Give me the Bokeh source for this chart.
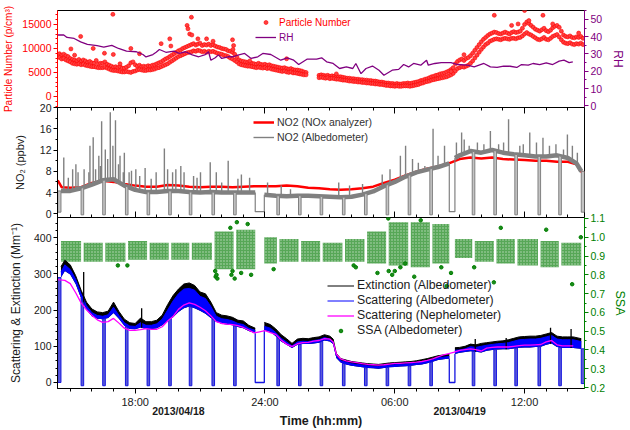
import numpy as np
from bokeh.plotting import figure
from bokeh.layouts import column
from bokeh.models import (Range1d, LinearAxis, FixedTicker, Legend, LegendItem,
                          PrintfTickFormatter, BasicTickFormatter)
from bokeh.embed import file_html
from bokeh.resources import INLINE

nan = float("nan")

# ---------------- time axis (hours since 2013/04/18 00:00) ----------------
T_START, T_END = 14.41, 38.77
MAJOR_HOURS = [18, 24, 30, 36]
HOUR_LABELS = {18: "18:00", 24: "24:00", 30: "06:00", 36: "12:00"}
MINOR_HOURS = list(range(15, 39))
DATES = ["2013/04/18", "2013/04/19"]
DATE_POS = [20, 33]

# albedometer zeroing cycles (start / end, hours)
dip_t0 = [14.42, 15.50, 16.50, 17.55, 18.55, 19.55, 20.50, 21.55, 22.55, 23.55, 24.55, 25.55, 26.55,
          27.58, 28.60, 29.60, 30.62, 31.62, 32.52, 33.58, 34.58, 35.55, 36.62, 37.58, 38.62]
dip_t1 = [14.57, 15.62, 16.62, 17.67, 18.67, 19.67, 20.62, 21.67, 22.67, 23.97, 24.67, 25.67, 26.67,
          27.70, 28.72, 29.72, 30.74, 31.74, 32.78, 33.70, 34.70, 35.67, 36.74, 37.70, 38.77]
dip_floor_sca = [0, -9, -9, -9, -9, -9, -9, -9, -9, 0, -9, -9, -9,
                 -9, -9, -9, -9, -9, 0, -9, -9, -9, -9, -9, -3]
dip_floor_no2 = [0.3, -0.2, -0.2, -0.2, -0.2, -0.2, -0.2, -0.2, -0.2, 0.4, -0.2, -0.2, -0.2,
                 -0.2, -0.2, -0.2, -0.2, -0.2, 0.4, -0.2, -0.2, -0.2, -0.2, -0.2, 0.3]

# ---------------- panel 1: particle number and RH ----------------
PN_T0, PN_DT = 14.5, 0.1
pn_hi = [8900, 8600, 8800, 8500, 8300, 7900, 7700, 7600, 7400, 7700,
         7300, 7600, 7400, 7100, 7300, 7000, 6900, 7500, 6800, 6900,
         6900, 7200, 6700, 6500, 6300, 6100, 6200, 6000, 6200, 5900,
         5900, 6100, 6400, 7000, 7200, 6600, 6300, 6500, 6200, 6300,
         6200, 6400, 6300, 6500, 6600, 6800, 7000, 7200, 7500, 7800,
         8000, 8300, 8600, 8900, 9200, 9500, 9700, 10000, 10200, 10400,
         10600, 10800, 11000, 10700, 10900, 11100, 10600, 10800, 10700, 10900,
         10600, 10800, 10500, 10300, 10200, 10000, 9900, 9800, 9500, 9400,
         9200, 8800, 8200, 7600, 7400, 7300, 7200, 7100, 7000, 6900,
         6800, 6700, 6900, 6700, 6600, 6700, 6500, 6600, 6400, 6300,
         6200, 6100, 6000, 5900, 6000, 5800, 5700, 5800, 5600, 5500,
         5500, 5400, 5300, 5100, 5000, nan, nan, nan, nan, nan,
         4400, 4500, 4400, 4300, 4400, 4200, 4300, 4200, 4100, 4100,
         4100, 4000, 3900, 3800, 3800, 3700, 3700, 3600, 3600, 3500,
         3500, 3400, 3400, 3300, 3300, 3200, 3200, 3100, 3000, 3000,
         2900, 2800, 2800, 2700, 2700, 2600, 2700, 2600, 2600, 2700,
         2700, 2800, 2700, 2800, 2900, 3000, 3100, 3300, 3400, 3600,
         3700, 3900, 4100, 4200, 4400, 4500, 4700, 4800, 4900, 5100,
         5300, 5600, 6000, 6800, 7300, 7600, 7800, 7500, 7900, 8100,
         8500, 9000, 9600, 10200, 10800, 11400, 11900, 12300, 12700, 13000,
         13200, 13400, 13300, 13100, 13000, 13200, 13400, 13200, 13000, 13300,
         13500, 13300, 13400, 13600, 14200, 15000, 15500, 15200, 14800, 14400,
         14000, 13800, 13600, 13900, 14200, 13700, 13500, 13800, 14300, 14600,
         14800, 14400, 13600, 12800, 12500, 12400, 12600, 12300, 12200, 12400,
         12300, 12500, 12100]
pn_lo = [8100, 7800, 7900, 7600, 7400, 7200, 6900, 6800, 6700, 6800,
         6600, 6700, 6500, 6400, 6300, 6200, 6200, 6100, 6000, 6000,
         6000, 6100, 5900, 5700, 5500, 5400, 5400, 5300, 5200, 5100,
         5100, 5200, 5100, 5000, 5200, 5300, 5500, 5600, 5500, 5400,
         5400, 5500, 5500, 5600, 5700, 5900, 6000, 6200, 6400, 6600,
         6800, 7100, 7400, 7700, 8000, 8300, 8500, 8700, 8900, 9100,
         9200, 9300, 9500, 9400, 9600, 9500, 9300, 9400, 9200, 9400,
         9300, 9400, 9200, 9000, 8900, 8800, 8600, 8500, 8300, 8000,
         7800, 7500, 7200, 6800, 6600, 6500, 6400, 6300, 6300, 6200,
         6100, 6000, 6100, 6000, 5900, 6000, 5800, 5900, 5700, 5600,
         5500, 5400, 5300, 5200, 5300, 5100, 5000, 5100, 4900, 4900,
         4800, 4700, 4600, 4500, 4500, nan, nan, nan, nan, nan,
         3900, 4000, 3900, 3800, 3900, 3700, 3800, 3700, 3600, 3600,
         3500, 3400, 3400, 3300, 3200, 3200, 3100, 3100, 3000, 3000,
         2900, 2900, 2800, 2800, 2700, 2700, 2600, 2600, 2500, 2500,
         2400, 2300, 2300, 2200, 2200, 2100, 2200, 2100, 2100, 2200,
         2200, 2200, 2100, 2200, 2300, 2400, 2500, 2700, 2800, 3000,
         3100, 3200, 3400, 3500, 3600, 3700, 3800, 3900, 4000, 4100,
         4300, 4500, 4800, 5300, 5800, 6000, 6200, 6100, 6300, 6500,
         6900, 7400, 8000, 8600, 9200, 9800, 10300, 10800, 11100, 11500,
         11700, 11900, 12000, 11900, 11800, 12000, 12100, 12000, 11900, 12100,
         12100, 12000, 12200, 12300, 12600, 13000, 13300, 13000, 12800, 12500,
         12200, 11900, 11800, 12000, 12300, 11900, 11800, 12100, 12500, 12700,
         12900, 12400, 11800, 11300, 11100, 11000, 11200, 10900, 10800, 11000,
         10900, 11100, 10800]
pn_out_t = [15.03, 15.2, 15.48, 16.06, 16.58, 16.97, 16.99, 17.3, 17.8, 18.2,
            19.2, 19.6, 19.65, 20.4, 20.44, 20.52, 20.6, 20.62, 20.9, 21.3,
            21.6, 22.5, 22.52, 22.55, 23.3, 25.0, 27.3, 32.6, 33.2, 34.6,
            35.4, 35.7, 36.0, 36.2, 36.85, 37.3, 38.5]
pn_out_v = [9900, 8600, 12500, 10000, 9000, 17100, 8750, 6800, 10000, 8900,
            11000, 12000, 10500, 14800, 14100, 13000, 16500, 12800, 12000, 12000,
            11500, 11800, 9800, 10600, 7400, 7850, 4700, 5200, 8700, 16900,
            14800, 15100, 17900, 15800, 16900, 15100, 13200]

rh_t = [14.42, 14.7, 14.85, 15.18, 15.48, 15.79, 16.24, 16.55, 16.92, 17.23, 17.6, 18.06, 18.36,
        18.5, 18.82, 18.97, 19.12, 19.42, 19.8, 20.03, 20.33, 20.64, 20.94, 21.24, 21.39, 21.5,
        21.7, 21.85, 22.0, 22.3, 22.5, 22.75, 23.06, 23.36, 23.67, 23.9, 24.27, 24.73, 25.03,
        25.33, 25.56, 25.94, 26.39, 26.62, 26.85, 27.15, 27.45, 27.76, 28.06, 28.2, 28.44, 28.67,
        28.97, 29.27, 29.5, 29.88, 30.18, 30.41, 30.64, 30.87, 31.2, 31.47, 31.55, 31.85, 32.15,
        32.6, 32.9, 33.36, 33.67, 34.12, 34.42, 34.73, 35.03, 35.33, 35.64, 35.86, 36.17, 36.39,
        36.7, 37.0, 37.3, 37.6, 37.82, 38.06, 38.23]
rh_v = [41, 41, 39.6, 39, 37, 35.6, 34.8, 34, 35, 33.2, 31.7, 31.3, 29.7,
        28.3, 29.7, 31, 32.6, 31, 31.7, 30.4, 31.3, 29.5, 28.4, 29.7, 31.3, 26.4,
        27.8, 29.5, 27.4, 28.4, 28.4, 29.4, 30.3, 27.4, 28.4, 30.3, 29.7, 26.4, 27.8,
        26.4, 23.9, 27, 27, 27.8, 25.5, 24.5, 21.6, 22.5, 21.6, 24.5, 18.6, 21.6,
        23, 20.6, 17.7, 20.6, 21.1, 23.9, 22.5, 24.5, 23.5, 26.4, 23.5, 24.5, 25,
        25, 23.9, 23.5, 22.5, 24.5, 22.5, 22.2, 23, 22.9, 22.2, 23.9, 23.5, 24.5,
        23.9, 24.9, 23.9, 25.9, 26.4, 25, 25.5]

# ---------------- panel 2: NO2 ----------------
nox_t = [14.42, 14.6, 15.0, 15.5, 16.0, 16.5, 17.0, 17.5, 18.0, 18.5,
         19.0, 19.5, 20.0, 20.5, 21.0, 21.5, 22.0, 22.5, 23.0, 23.5,
         24.0, 24.5, 25.0, 25.5, 26.0, 26.5, 27.0, 27.5, 28.0, 28.5,
         29.0, 29.5, 30.0, 30.5, 31.0, 31.5, 32.0, 32.5, 33.0, 33.5,
         34.0, 34.5, 35.0, 35.5, 36.0, 36.5, 37.0, 37.5, 38.0, 38.4, 38.6, 38.75]
nox_v = [6.3, 5.0, 4.9, 5.0, 5.8, 6.2, 6.0, 5.6, 5.3, 5.1,
         5.1, 5.4, 5.3, 5.1, 5.0, 5.1, 5.1, 5.0, 5.1, 5.2,
         5.2, 5.2, 5.3, 5.2, 4.9, 4.8, 4.6, 4.5, 4.6, 4.8,
         5.1, 5.8, 6.4, 7.2, 7.9, 8.5, 8.9, 9.5, 10.3, 10.6,
         10.4, 10.6, 10.3, 10.2, 10.1, 10.0, 10.0, 9.8, 9.8, 9.3, 8.0, 7.6]
alb_no2_t = [14.57, 15.0, 15.5, 16.0, 16.5, 17.0, 17.5, 18.0, 18.5, 19.0,
             19.5, 20.0, 20.5, 21.0, 21.5, 22.0, 22.5, 23.0, 23.55, 23.76,
             23.97, 24.5, 25.0, 25.5, 26.0, 26.5, 27.0, 27.5, 28.0, 28.5,
             29.0, 29.5, 30.0, 30.5, 31.0, 31.5, 32.0, 32.52, 32.65, 32.78,
             33.0, 33.5, 34.0, 34.5, 35.0, 35.5, 36.0, 36.5, 37.0, 37.5,
             38.0, 38.4, 38.62]
alb_no2_v = [4.3, 4.3, 4.8, 5.5, 6.3, 6.5, 5.3, 4.5, 4.1, 4.1,
             4.3, 4.3, 4.1, 4.0, 4.1, 4.0, 4.0, 4.0, 4.0, nan,
             3.6, 3.4, 3.3, 3.4, 3.4, 3.3, 3.2, 3.1, 3.2, 3.6,
             4.2, 5.2, 6.0, 7.0, 7.8, 8.3, 8.8, 9.5, nan, 10.5,
             11.0, 11.8, 11.5, 12.0, 11.5, 11.2, 11.0, 10.8, 10.8, 11.0,
             10.5, 9.5, 8.0]
no2_spk_t = [14.70, 14.91, 15.11, 15.26, 15.36, 15.64, 15.86, 15.91, 16.06, 16.17,
             16.32, 16.39, 16.45, 16.62, 16.73, 16.85, 16.97, 17.09, 17.23, 17.30,
             17.45, 17.50, 17.72, 17.83, 18.03, 18.21, 18.46, 18.74, 18.97, 19.35,
             19.50, 19.73, 19.88, 20.11, 20.26, 20.70, 20.86, 21.02, 21.47, 21.75,
             22.00, 22.30, 22.75, 22.91, 23.29, 24.12, 24.75, 25.18, 27.41, 27.91,
             28.51, 29.42, 29.78, 30.26, 30.50, 30.82, 31.09, 31.39, 31.77, 32.00,
             32.30, 32.85, 33.09, 33.21, 33.44, 33.82, 34.12, 34.42, 34.80, 35.03,
             35.26, 35.78, 35.94, 36.24, 36.55, 36.85, 37.15, 37.45, 37.80, 37.98,
             38.21, 38.44]
no2_spk_v = [10.6, 6.8, 8.4, 9.3, 7.8, 8.4, 7.8, 12.8, 14.4, 8.4,
             10.9, 9.0, 17.4, 12.1, 10.3, 19.1, 12.8, 17.6, 9.3, 10.9,
             7.8, 11.5, 7.8, 8.1, 8.4, 7.1, 8.6, 6.6, 7.8, 12.3,
             8.4, 7.8, 8.4, 9.0, 7.8, 7.1, 6.8, 7.8, 9.7, 7.8,
             5.9, 10.0, 6.6, 7.4, 6.8, 5.9, 5.3, 4.6, 5.9, 5.3,
             5.6, 7.4, 8.4, 10.9, 12.8, 10.3, 9.6, 9.0, 16.0, 10.9,
             12.8, 13.4, 15.3, 14.0, 12.8, 13.4, 13.1, 15.6, 13.1, 13.4,
             17.8, 12.8, 13.1, 15.3, 13.4, 14.3, 12.8, 13.1, 12.1, 14.9,
             12.8, 11.5]

# ---------------- panel 3: optics ----------------
opt_t = [14.57, 14.75, 15.0, 15.25, 15.5, 15.75, 16.0, 16.25, 16.5, 16.75,
         17.0, 17.25, 17.5, 17.75, 18.0, 18.25, 18.5, 18.75, 19.0, 19.25,
         19.5, 19.75, 20.0, 20.25, 20.5, 20.75, 21.0, 21.25, 21.5, 21.75,
         22.0, 22.25, 22.5, 22.75, 23.0, 23.25,
         23.55, 23.76, 23.97,
         24.25, 24.5, 24.75, 25.0, 25.25, 25.5, 25.75, 26.0, 26.25, 26.5, 26.75, 27.0,
         27.15, 27.3,
         27.5, 27.75, 28.0, 28.25, 28.5, 28.75, 29.0, 29.25, 29.5, 29.75,
         30.0, 30.25, 30.5, 30.75, 31.0, 31.25, 31.5, 31.75, 32.0, 32.25,
         32.52, 32.65, 32.78,
         33.0, 33.25, 33.5, 33.75, 34.0, 34.25, 34.5, 34.75, 35.0, 35.25,
         35.5, 35.75, 36.0, 36.25, 36.5, 36.75, 37.0, 37.25, 37.5, 37.75,
         38.0, 38.25,
         38.62]
ext_hi = [320, 338, 325, 295, 255, 222, 203, 195, 193, 197,
          222, 196, 175, 165, 163, 178, 168, 168, 172, 186,
          215, 240, 258, 272, 275, 268, 250, 245, 222, 193,
          186, 184, 180, 172, 170, 158,
          150, nan, 166,
          160, 148, 132, 121, 108, 120, 122, 121, 124, 126, 132, 128,
          120, 80,
          66, 62, 58, 56, 54, 52, 51, 50, 52, 54,
          55, 56, 57, 58, 60, 63, 66, 70, 74, 76,
          78, nan, 96,
          97, 100, 106, 104, 108, 110, 112, 114, 115, 118,
          122, 126, 127, 128, 128, 130, 134, 138, 128, 126,
          126, 126,
          121]
sca_hi = [305, 325, 312, 285, 245, 212, 193, 185, 183, 187,
          208, 185, 165, 156, 155, 165, 158, 158, 162, 175,
          200, 225, 245, 258, 260, 255, 238, 232, 210, 183,
          176, 174, 170, 163, 160, 150,
          144, nan, 155,
          150, 138, 122, 112, 101, 112, 114, 113, 116, 118, 124, 120,
          112, 74,
          60, 56, 52, 50, 48, 46, 45, 44, 46, 48,
          49, 50, 51, 52, 54, 57, 60, 63, 68, 70,
          72, nan, 89,
          90, 93, 99, 97, 100, 103, 105, 107, 108, 110,
          114, 118, 119, 120, 120, 122, 126, 130, 120, 118,
          118, 118,
          113]
sca_lo = [290, 308, 298, 272, 233, 201, 183, 176, 175, 178,
          192, 176, 157, 148, 147, 152, 148, 148, 150, 158,
          170, 180, 195, 205, 210, 205, 198, 190, 178, 168,
          162, 160, 158, 153, 150, 142,
          136, nan, 144,
          140, 128, 113, 104, 95, 104, 106, 106, 108, 110, 116, 113,
          106, 68,
          55, 50, 46, 44, 42, 40, 39, 38, 40, 42,
          43, 44, 45, 46, 48, 50, 53, 57, 62, 64,
          66, nan, 79,
          82, 84, 86, 85, 83, 88, 90, 91, 92, 92,
          94, 96, 97, 97, 98, 99, 104, 108, 98, 95,
          95, 95,
          93]
ext_spk_t = [15.62, 18.30, 33.72, 35.15, 37.20, 38.15]
ext_spk_v = [305, 205, 120, 123, 151, 148]

neph_t = [14.42,
          14.75, 15.0, 15.25, 15.5, 15.75, 16.0, 16.25, 16.5, 16.75, 17.0,
          17.25, 17.5, 17.75, 18.0, 18.25, 18.5, 18.75, 19.0, 19.25, 19.5,
          19.75, 20.0, 20.25, 20.5, 20.75, 21.0, 21.25, 21.5, 21.75, 22.0,
          22.25, 22.5, 22.75, 23.0, 23.25, 23.5, 23.75, 24.0, 24.25, 24.5,
          24.75, 25.0, 25.25, 25.5, 25.75, 26.0, 26.25, 26.5, 26.75, 27.0,
          27.15, 27.3,
          27.5, 27.75, 28.0, 28.25, 28.5, 28.75, 29.0, 29.25, 29.5, 29.75,
          30.0, 30.25, 30.5, 30.75, 31.0, 31.25, 31.5, 31.75, 32.0, 32.25,
          32.5, 32.75, 33.0, 33.25, 33.5, 33.75, 34.0, 34.25, 34.5, 34.75,
          35.0, 35.25, 35.5, 35.75, 36.0, 36.25, 36.5, 36.75, 37.0, 37.25,
          37.5, 37.75, 38.0, 38.25]
neph_v = [284,
          282, 273, 248, 220, 201, 186, 173, 166, 168, 177,
          164, 150, 144, 144, 146, 149, 147, 147, 154, 170,
          182, 202, 214, 220, 216, 208, 198, 184, 168, 163,
          161, 160, 157, 152, 145, 137, 140, 143, 138, 133,
          117, 106, 99, 107, 110, 111, 114, 116, 121, 120,
          112, 78,
          65, 60, 57, 55, 52, 50, 49, 48, 49, 51,
          53, 53, 54, 55, 56, 58, 61, 65, 71, 76,
          80, 84, 89, 91, 93, 91, 87, 95, 97, 98,
          98, 98, 100, 102, 103, 103, 104, 105, 112, 116,
          104, 101, 101, 101]

# SSA: dense core per measurement cycle (between zeroings) and scattered points
ssa_lo = [0.87, 0.87, 0.87, 0.88, 0.88, 0.88, 0.88, 0.83, 0.83, 0.86, 0.87, 0.87,
          0.87, 0.87, 0.86, 0.85, 0.84, 0.86, 0.89, 0.87, 0.86, 0.85, 0.84, 0.85]
ssa_hi = [0.98, 0.97, 0.97, 0.98, 0.97, 0.97, 0.97, 1.03, 1.04, 1.00, 0.99, 0.98,
          0.97, 0.99, 1.03, 1.08, 1.08, 1.07, 0.99, 0.98, 0.99, 0.99, 0.98, 0.97]
ssa_out_t = [17.2, 17.64, 21.7, 21.72, 21.76, 21.8, 22.4, 22.45, 22.5, 22.6,
             22.7, 22.9, 23.2, 23.36, 24.4, 28.1, 28.2, 29.2, 29.7, 29.72,
             29.88, 30.0, 30.26, 30.48, 30.9, 31.2, 32.15, 32.4, 32.6, 33.67,
             34.58, 34.9, 37.0, 38.2, 38.6]
ssa_out_v = [0.85, 0.85, 0.82, 0.79, 0.80, 0.78, 1.05, 0.80, 0.82, 0.78,
             1.08, 0.81, 1.07, 0.80, 0.83, 0.85, 0.84, 0.81, 1.10, 0.82,
             0.80, 0.82, 0.84, 0.86, 0.79, 1.09, 0.84, 0.74, 0.81, 0.84,
             0.76, 1.05, 1.04, 0.75, 1.00]

# ---------------- styling ----------------
FONT = "Liberation Sans"
INK = "#1a1a1a"
RED, PURPLE, GREEN = "#ff0000", "#800080", "#008000"
BLUE, MAGENTA, GRAY = "#0000ff", "#ff00ff", "#808080"

x_range = Range1d(T_START, T_END)


def runs(t, *cols):
    """Yield the unbroken (non-NaN) stretches of a series."""
    t = np.asarray(t, float)
    cols = [np.asarray(c, float) for c in cols]
    idx = np.flatnonzero(~np.isnan(cols[0]))
    for seg in np.split(idx, np.where(np.diff(idx) > 1)[0] + 1):
        yield (t[seg],) + tuple(c[seg] for c in cols)


def at(t_query, t, v):
    t = np.asarray(t, float)
    v = np.asarray(v, float)
    ok = ~np.isnan(v)
    return np.interp(t_query, t[ok], v[ok])


def make_fig(height, top, bottom, xloc=None):
    p = figure(width=630, height=height, x_range=x_range, output_backend="svg",
               toolbar_location=None, x_axis_location=xloc,
               min_border_left=53, min_border_right=41,
               min_border_top=top, min_border_bottom=bottom)
    p.grid.visible = False
    p.outline_line_color = "black"
    p.outline_line_width = 1
    p.background_fill_color = "white"
    p.border_fill_color = None
    return p


def style_y(ax, color, label, label_size, standoff):
    ax.axis_label = label
    ax.axis_line_color = color
    ax.major_tick_line_color = color
    ax.minor_tick_line_color = color
    ax.major_label_text_color = color
    ax.axis_label_text_color = color
    ax.major_label_text_font = FONT
    ax.axis_label_text_font = FONT
    ax.major_label_text_font_size = "10.5px"
    ax.axis_label_text_font_size = label_size
    ax.axis_label_text_font_style = "normal"
    ax.axis_label_standoff = standoff
    ax.major_tick_in = 0
    ax.major_tick_out = 4
    ax.minor_tick_in = 0
    ax.minor_tick_out = 2
    ax.major_label_standoff = 2


def tick_strip(p, side):
    # hour ticks along a shared panel edge: label-free (only minor-tick sets)
    for hours, length in ((MINOR_HOURS, 3), (MAJOR_HOURS, 6)):
        ax = LinearAxis(ticker=FixedTicker(ticks=[], minor_ticks=hours))
        ax.axis_line_color = None
        ax.major_label_standoff = 0
        ax.major_tick_in, ax.major_tick_out = 0, 0
        ax.minor_tick_in, ax.minor_tick_out = length, 0
        p.add_layout(ax, side)


def legend(items, loc, size, color, glyph_w, glyph_h=14):
    return Legend(items=items, location=loc, background_fill_alpha=0, border_line_alpha=0,
                  padding=0, margin=0, spacing=1, label_standoff=3, glyph_width=glyph_w,
                  glyph_height=glyph_h, label_height=14, label_text_font=FONT,
                  label_text_font_size=size, label_text_color=color)


def overlay_strip(height, overlap):
    # transparent, frameless strip laid over the empty lower border above it
    p = figure(width=630, height=height, x_range=x_range, y_range=Range1d(0, 1),
               output_backend="svg", toolbar_location=None,
               x_axis_location="below", y_axis_location=None,
               min_border_left=53, min_border_right=41, min_border_top=0, min_border_bottom=0)
    p.margin = (-overlap, 0, 0, 0)
    p.grid.visible = False
    p.outline_line_color = None
    p.background_fill_color = None
    p.border_fill_color = None
    ax = p.xaxis[0]
    ax.axis_line_color = None
    ax.major_tick_in, ax.major_tick_out = 0, 0
    ax.minor_tick_in, ax.minor_tick_out = 0, 0
    ax.major_label_text_font = FONT
    ax.major_label_text_color = INK
    ax.axis_label_text_font = FONT
    ax.axis_label_text_color = INK
    return p, ax


# ================= panel 1 =================
p1 = make_fig(113, 10, 6)
p1.y_range = Range1d(-2300, 17900)
p1.extra_y_ranges = {"rh": Range1d(-1, 55.2)}
style_y(p1.yaxis[0], RED, "Particle Number (p/cm³)", "10px", 5)
p1.yaxis[0].ticker = FixedTicker(ticks=[0, 5000, 10000, 15000],
                                 minor_ticks=list(range(-2000, 18000, 1000)))
p1.yaxis[0].formatter = BasicTickFormatter(use_scientific=False)
rh_axis = LinearAxis(y_range_name="rh")
style_y(rh_axis, PURPLE, "RH", "12px", 6)
rh_axis.ticker = FixedTicker(ticks=[0, 10, 20, 30, 40, 50], minor_ticks=list(range(0, 56, 5)))
p1.add_layout(rh_axis, "right")

pn_t = np.round(PN_T0 + PN_DT * np.arange(len(pn_hi)), 2)
pn_x = np.concatenate([pn_t, pn_t, pn_out_t])
pn_y = np.concatenate([pn_hi, pn_lo, pn_out_v])
r_pn = p1.scatter(pn_x, pn_y, marker="circle", size=4, fill_color="#ff4040",
                  line_color=RED, line_width=0.6)
r_rh = p1.line(rh_t, rh_v, y_range_name="rh", line_color=PURPLE, line_width=1.3)
p1.add_layout(legend([LegendItem(label="Particle Number", renderers=[r_pn])], (198, 78),
                     "10px", RED, 21, glyph_h=10))
p1.add_layout(legend([LegendItem(label="RH", renderers=[r_rh])], (198, 63), "10px", PURPLE, 21))

# ================= panel 2 =================
p2 = make_fig(122, 6, 6)
p2.margin = (-12, 0, 0, 0)
p2.y_range = Range1d(-0.7, 20)
style_y(p2.yaxis[0], INK, "NO₂ (ppbv)", "11px", 11)
p2.yaxis[0].axis_line_color = "black"
p2.yaxis[0].major_tick_line_color = "black"
p2.yaxis[0].minor_tick_line_color = "black"
p2.yaxis[0].ticker = FixedTicker(ticks=[0, 4, 8, 12, 16, 20], minor_ticks=list(range(0, 21, 2)))
tick_strip(p2, "above")
tick_strip(p2, "below")

r_nox = p2.line(nox_t, nox_v, line_color=RED, line_width=2.5)
p2.line(alb_no2_t, alb_no2_v, line_color=GRAY, line_width=4.5)
r_no2s = p2.segment(x0=no2_spk_t, y0=at(no2_spk_t, alb_no2_t, alb_no2_v), x1=no2_spk_t,
                    y1=no2_spk_v, line_color=GRAY, line_width=1.4)
short = [i for i in range(len(dip_t0)) if dip_t1[i] - dip_t0[i] < 0.2]
long_ = [i for i in range(len(dip_t0)) if dip_t1[i] - dip_t0[i] >= 0.2]


def dip_paths(idx, t, v, floors):
    xs, ys = [], []
    for i in idx:
        a, b = dip_t0[i], dip_t1[i]
        xs.append([a, a, b, b])
        ys.append([float(at(a, t, v)), floors[i], floors[i], float(at(b, t, v))])
    return xs, ys


xs, ys = dip_paths(short, alb_no2_t, alb_no2_v, dip_floor_no2)
p2.patches(xs, ys, fill_color="#c4c4c4", line_color=GRAY, line_width=1)
xs, ys = dip_paths(long_, alb_no2_t, alb_no2_v, dip_floor_no2)
p2.multi_line(xs, ys, line_color=GRAY, line_width=1.2)
p2.add_layout(legend([LegendItem(label="NO2 (NOx analyzer)", renderers=[r_nox]),
                      LegendItem(label="NO2 (Albedometer)", renderers=[r_no2s])],
                     (196, 73), "10.5px", "#333333", 21))

# ================= panel 3 =================
p3 = make_fig(201, 6, 24, xloc="below")
p3.margin = (-12, 0, 0, 0)
p3.y_range = Range1d(-16.6, 455.8)
p3.extra_y_ranges = {"ssa": Range1d(0.195, 1.105)}
style_y(p3.yaxis[0], INK, "Scattering & Extinction (Mm⁻¹)", "12px", 8)
p3.yaxis[0].axis_line_color = "black"
p3.yaxis[0].major_tick_line_color = "black"
p3.yaxis[0].minor_tick_line_color = "black"
p3.yaxis[0].ticker = FixedTicker(ticks=[0, 100, 200, 300, 400], minor_ticks=list(range(0, 460, 20)))
ssa_axis = LinearAxis(y_range_name="ssa")
style_y(ssa_axis, GREEN, "SSA", "12.5px", 5)
ssa_axis.ticker = FixedTicker(ticks=[0.2, 0.3, 0.4, 0.5, 0.6, 0.7, 0.8, 0.9, 1.0, 1.1],
                              minor_ticks=[round(0.2 + 0.05 * k, 2) for k in range(19)])
ssa_axis.formatter = PrintfTickFormatter(format="%.1f")
p3.add_layout(ssa_axis, "right")

xa = p3.xaxis[0]
xa.ticker = FixedTicker(ticks=MAJOR_HOURS, minor_ticks=MINOR_HOURS)
xa.major_label_overrides = HOUR_LABELS
xa.axis_line_color = "black"
xa.major_tick_in, xa.major_tick_out = 0, 5
xa.minor_tick_in, xa.minor_tick_out = 0, 3
xa.major_label_standoff = 2
xa.major_label_text_font = FONT
xa.major_label_text_font_size = "11px"
xa.major_label_text_color = INK

# SSA cloud and scattered values
p3.quad(left=dip_t1[:-1], right=dip_t0[1:], bottom=ssa_lo, top=ssa_hi, y_range_name="ssa",
        fill_color="#3a983a", fill_alpha=0.85, line_color=None,
        hatch_pattern="dot", hatch_color="white", hatch_scale=3, hatch_weight=1, hatch_alpha=0.6)
r_ssa = p3.scatter(ssa_out_t, ssa_out_v, y_range_name="ssa", marker="circle", size=3.5,
                   fill_color="#1a8a1a", line_color=GREEN)

for ts, lo, hi in runs(opt_t, sca_lo, ext_hi):
    p3.varea(x=ts, y1=lo, y2=hi, fill_color="black")
for ts, lo, hi in runs(opt_t, sca_lo, sca_hi):
    p3.varea(x=ts, y1=lo, y2=hi, fill_color=BLUE)
r_ext = p3.line(opt_t, ext_hi, line_color="black", line_width=1)
r_sca = p3.line(opt_t, sca_hi, line_color=BLUE, line_width=1)
p3.segment(x0=ext_spk_t, y0=at(ext_spk_t, opt_t, sca_lo), x1=ext_spk_t, y1=ext_spk_v,
           line_color="black", line_width=1.3)

xs, ys = dip_paths(short, opt_t, sca_lo, dip_floor_sca)
p3.patches(xs, ys, fill_color="#5a5ad8", line_color="#1515e0", line_width=1)
xs, ys = dip_paths(long_, opt_t, sca_lo, dip_floor_sca)
p3.multi_line(xs, ys, line_color="#1515e0", line_width=1.3)

r_neph = p3.line(neph_t, neph_v, line_color=MAGENTA, line_width=1.3)

p3.add_layout(legend([LegendItem(label="Extinction (Albedometer)", renderers=[r_ext]),
                      LegendItem(label="Scattering (Albedometer)", renderers=[r_sca]),
                      LegendItem(label="Scattering (Nephelometer)", renderers=[r_neph]),
                      LegendItem(label="SSA (Albedometer)", renderers=[r_ssa])],
                     (270, 51), "12.3px", INK, 27, glyph_h=9))

# ================= calendar dates under the hour labels =================
p4, da = overlay_strip(30, 23)
da.ticker = FixedTicker(ticks=DATE_POS, minor_ticks=[])
da.major_label_overrides = dict(zip(DATE_POS, DATES))
da.major_label_standoff = 2
da.major_label_text_font_size = "10.5px"
da.major_label_text_font_style = "bold"

# ================= axis title =================
p5, ta = overlay_strip(22, 11)
ta.ticker = FixedTicker(ticks=[], minor_ticks=[])
ta.major_label_standoff = 0
ta.axis_label = "Time (hh:mm)"
ta.axis_label_standoff = 0
ta.axis_label_text_font_size = "12.5px"
ta.axis_label_text_font_style = "bold"

layout = column(p1, p2, p3, p4, p5, spacing=0)
open("out.html", "w").write(file_html(layout, INLINE))
